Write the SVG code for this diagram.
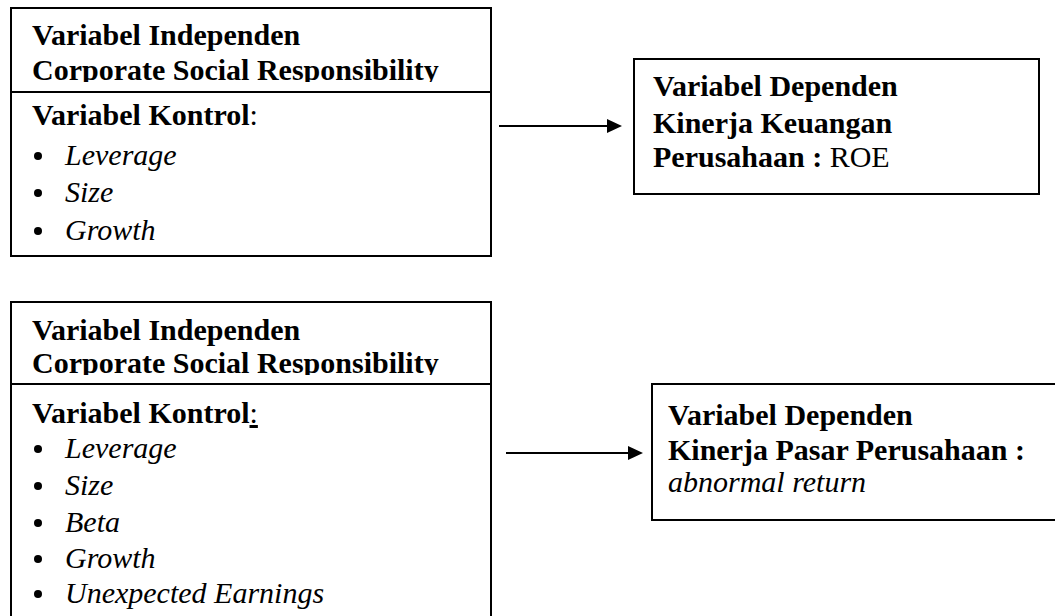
<svg xmlns="http://www.w3.org/2000/svg" width="1055" height="616" viewBox="0 0 1055 616">
<style>
.box{fill:#fff;stroke:#000;stroke-width:2}
.div{stroke:#000;stroke-width:2}
text{font-family:"Liberation Serif","Times New Roman",serif;font-size:30px;fill:#000}
.b{font-weight:bold}
.i{font-style:italic}
.dot{fill:#000}
.conn line{stroke:#000;stroke-width:2}
.conn polygon{fill:#000}
</style>
<defs>
<clipPath id="c1"><rect x="12" y="9" width="478" height="73"/></clipPath>
<clipPath id="c3"><rect x="12" y="303" width="478" height="72"/></clipPath>
</defs>
<rect width="1055" height="616" fill="#fff"/>
<g id="node-independen-1">
<rect class="box" x="11" y="8" width="480" height="248"/>
<line class="div" x1="11" y1="92" x2="491" y2="92"/>
<g clip-path="url(#c1)">
<text class="b" x="32" y="45">Variabel Independen</text>
<text class="b" x="32" y="80">Corporate Social Responsibility</text>
</g>
<text x="32" y="125"><tspan class="b">Variabel Kontrol</tspan>:</text>
<circle class="dot" cx="38" cy="156" r="4"/><text class="i" x="65" y="165">Leverage</text>
<circle class="dot" cx="38" cy="193" r="4"/><text class="i" x="65" y="202">Size</text>
<circle class="dot" cx="38" cy="231" r="4"/><text class="i" x="65" y="240">Growth</text>
</g>
<g id="node-dependen-1">
<rect class="box" x="634" y="59" width="405" height="135"/>
<text class="b" x="653" y="96">Variabel Dependen</text>
<text class="b" x="653" y="133">Kinerja Keuangan</text>
<text x="653" y="167"><tspan class="b">Perusahaan :</tspan> ROE</text>
</g>
<g id="node-independen-2">
<rect class="box" x="11" y="302" width="480" height="330"/>
<line class="div" x1="11" y1="384" x2="491" y2="384"/>
<g clip-path="url(#c3)">
<text class="b" x="32" y="340">Variabel Independen</text>
<text class="b" x="32" y="373">Corporate Social Responsibility</text>
</g>
<text x="32" y="423"><tspan class="b">Variabel Kontrol</tspan><tspan text-decoration="underline">:</tspan></text>
<circle class="dot" cx="38" cy="449" r="4"/><text class="i" x="65" y="458">Leverage</text>
<circle class="dot" cx="38" cy="486" r="4"/><text class="i" x="65" y="495">Size</text>
<circle class="dot" cx="38" cy="523" r="4"/><text class="i" x="65" y="532">Beta</text>
<circle class="dot" cx="38" cy="559" r="4"/><text class="i" x="65" y="568">Growth</text>
<circle class="dot" cx="38" cy="594" r="4"/><text class="i" x="65" y="603">Unexpected Earnings</text>
</g>
<g id="node-dependen-2">
<rect class="box" x="652" y="384" width="420" height="136"/>
<text class="b" x="668" y="425">Variabel Dependen</text>
<text class="b" x="668" y="460">Kinerja Pasar Perusahaan :</text>
<text class="i" x="668" y="492">abnormal return</text>
</g>
<g id="connectors" class="conn">
<line x1="499" y1="126" x2="608" y2="126"/>
<polygon points="607,119 622,126 607,133"/>
<line x1="506" y1="453" x2="629" y2="453"/>
<polygon points="628,446 643,453 628,460"/>
</g>
</svg>
